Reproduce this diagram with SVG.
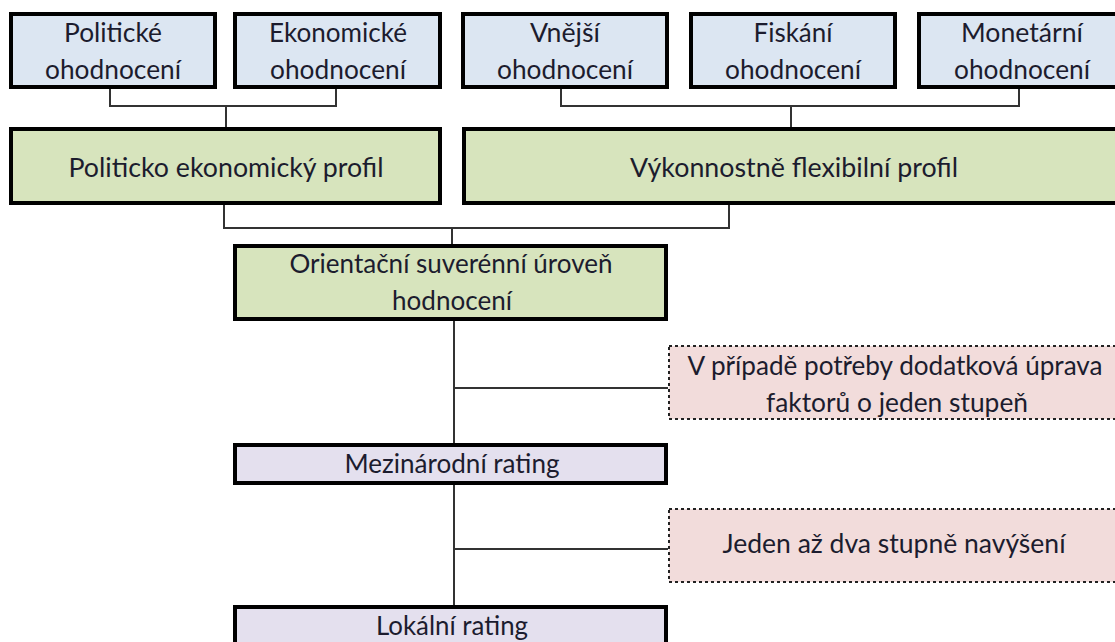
<svg xmlns="http://www.w3.org/2000/svg" width="1115" height="642" viewBox="0 0 1115 642">
<style>
.box{stroke:#000;stroke-width:4}
.blue{fill:#dce6f2}
.green{fill:#d7e4bd}
.purple{fill:#e4e0ee}
.pink{fill:#f2dcdb;stroke:#222;stroke-width:2;stroke-dasharray:3 3}
.conn{fill:none;stroke:#333;stroke-width:2}
text{font-family:Lato,"Open Sans","Liberation Sans",sans-serif;font-size:26.5px;fill:#1c1c2e;text-anchor:middle}
</style>
<rect width="1115" height="642" fill="#fff"/>
<g id="connectors">
<path class="conn" d="M110,89 V106 H336 V89 M226,106 V127"/>
<path class="conn" d="M561,89 V106 H1019 V89 M791,106 V127"/>
<path class="conn" d="M224,205 V228 H729 V205 M452,228 V244"/>
<path class="conn" d="M454,321 V443 M454,388 H668"/>
<path class="conn" d="M454,485 V605 M454,549 H668"/>
</g>
<g id="politicke">
<rect class="box blue" x="11" y="14" width="204" height="73"/>
<text x="113" y="42" textLength="98" lengthAdjust="spacingAndGlyphs">Politické</text>
<text x="113" y="79" textLength="136" lengthAdjust="spacingAndGlyphs">ohodnocení</text>
</g>
<g id="ekonomicke">
<rect class="box blue" x="235" y="14" width="205" height="73"/>
<text x="338" y="42" textLength="138" lengthAdjust="spacingAndGlyphs">Ekonomické</text>
<text x="338" y="79" textLength="136" lengthAdjust="spacingAndGlyphs">ohodnocení</text>
</g>
<g id="vnejsi">
<rect class="box blue" x="463" y="14" width="204" height="73"/>
<text x="565" y="42" textLength="70" lengthAdjust="spacingAndGlyphs">Vnější</text>
<text x="565" y="79" textLength="136" lengthAdjust="spacingAndGlyphs">ohodnocení</text>
</g>
<g id="fiskani">
<rect class="box blue" x="691" y="14" width="204" height="73"/>
<text x="793" y="42" textLength="79" lengthAdjust="spacingAndGlyphs">Fiskání</text>
<text x="793" y="79" textLength="136" lengthAdjust="spacingAndGlyphs">ohodnocení</text>
</g>
<g id="monetarni">
<rect class="box blue" x="919" y="14" width="206" height="73"/>
<text x="1022" y="42" textLength="122" lengthAdjust="spacingAndGlyphs">Monetární</text>
<text x="1022" y="79" textLength="136" lengthAdjust="spacingAndGlyphs">ohodnocení</text>
</g>
<g id="politicko-ekonomicky">
<rect class="box green" x="11" y="129" width="429" height="74"/>
<text x="226" y="177" textLength="315" lengthAdjust="spacingAndGlyphs">Politicko ekonomický profil</text>
</g>
<g id="vykonnostne-flexibilni">
<rect class="box green" x="464" y="129" width="662" height="74"/>
<text x="794" y="177" textLength="328" lengthAdjust="spacingAndGlyphs">Výkonnostně flexibilní profil</text>
</g>
<g id="orientacni">
<rect class="box green" x="235" y="246" width="431" height="73"/>
<text x="451" y="273" textLength="323" lengthAdjust="spacingAndGlyphs">Orientační suverénní úroveň</text>
<text x="452" y="310" textLength="120" lengthAdjust="spacingAndGlyphs">hodnocení</text>
</g>
<g id="uprava">
<rect class="pink" x="669" y="346" width="460" height="73"/>
<text x="895" y="375" textLength="415" lengthAdjust="spacingAndGlyphs">V případě potřeby dodatková úprava</text>
<text x="897" y="412" textLength="262" lengthAdjust="spacingAndGlyphs">faktorů o jeden stupeň</text>
</g>
<g id="mezinarodni">
<rect class="box purple" x="235" y="445" width="431" height="38"/>
<text x="452" y="473" textLength="215" lengthAdjust="spacingAndGlyphs">Mezinárodní rating</text>
</g>
<g id="navyseni">
<rect class="pink" x="669" y="509" width="460" height="73"/>
<text x="894" y="553" textLength="343" lengthAdjust="spacingAndGlyphs">Jeden až dva stupně navýšení</text>
</g>
<g id="lokalni">
<rect class="box purple" x="235" y="607" width="431" height="60"/>
<text x="452" y="635" textLength="152" lengthAdjust="spacingAndGlyphs">Lokální rating</text>
</g>
</svg>
